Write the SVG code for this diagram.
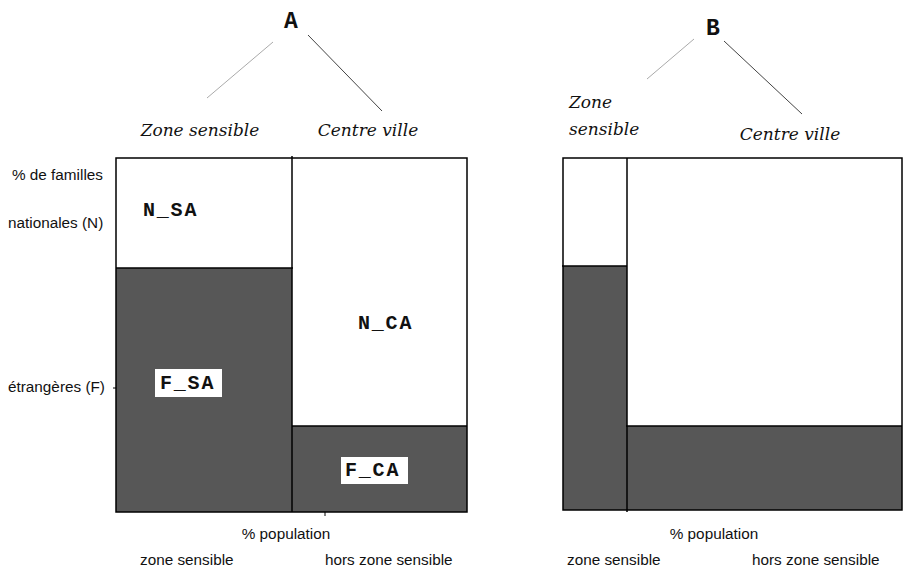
<svg xmlns="http://www.w3.org/2000/svg" width="908" height="569" viewBox="0 0 908 569">
<style>
.ax{font-family:"Liberation Sans",Arial,sans-serif;font-size:15.3px;fill:#111}
.it{font-family:"DejaVu Serif","Liberation Serif",serif;font-style:italic;font-size:17px;fill:#111}
.cd{font-family:"Liberation Mono","Courier New",monospace;font-weight:bold;font-size:20px;letter-spacing:1.8px;fill:#111}
.hd{font-family:"Liberation Mono","Courier New",monospace;font-weight:bold;font-size:23px;fill:#111}
.dk{fill:#575757}
.bx{fill:none;stroke:#000;stroke-width:1.5}
</style>
<rect width="908" height="569" fill="#fff"/>
<g id="chartA">
<rect class="dk" x="116" y="268" width="176" height="244"/>
<rect class="dk" x="292" y="426" width="175" height="86"/>
<rect class="bx" x="116" y="158" width="351" height="354"/>
<line x1="292" y1="156" x2="292" y2="512" stroke="#000" stroke-width="1.5"/>
<line x1="116" y1="268" x2="293" y2="268" stroke="#000" stroke-width="1.5"/>
<line x1="292" y1="426" x2="467" y2="426" stroke="#000" stroke-width="1.5"/>
<line x1="325" y1="512" x2="325" y2="516" stroke="#000" stroke-width="1"/>
<line x1="113" y1="388" x2="116" y2="388" stroke="#000" stroke-width="1"/>
</g>
<g id="labelsA">
<text class="hd" x="291" y="28" text-anchor="middle">A</text>
<text class="it" x="200" y="136" text-anchor="middle">Zone sensible</text>
<text class="it" x="368" y="136" text-anchor="middle">Centre ville</text>
<text class="ax" x="12" y="180">% de familles</text>
<text class="ax" x="8" y="228">nationales (N)</text>
<text class="ax" x="8" y="392">étrangères (F)</text>
<text class="cd" x="143" y="216">N_SA</text>
<text class="cd" x="358" y="329">N_CA</text>
<g id="fsa"><rect x="155" y="369" width="67" height="28" fill="#fff"/><text class="cd" x="160" y="389">F_SA</text></g>
<g id="fca"><rect x="341" y="457" width="67" height="27" fill="#fff"/><text class="cd" x="345" y="476">F_CA</text></g>
<text class="ax" x="286" y="539" text-anchor="middle">% population</text>
<text class="ax" x="140" y="565">zone sensible</text>
<text class="ax" x="325" y="565">hors zone sensible</text>
</g>
<g id="chartB">
<rect class="dk" x="563" y="266" width="64" height="244"/>
<rect class="dk" x="627" y="426" width="275" height="84"/>
<rect class="bx" x="563" y="158" width="339" height="352"/>
<line x1="627" y1="158" x2="627" y2="512" stroke="#000" stroke-width="1.5"/>
<line x1="562" y1="266" x2="627" y2="266" stroke="#000" stroke-width="1.5"/>
<line x1="626" y1="426" x2="902" y2="426" stroke="#000" stroke-width="1.5"/>
</g>
<g id="labelsB">
<text class="hd" x="713" y="35" text-anchor="middle">B</text>
<text class="it" x="569" y="108">Zone</text>
<text class="it" x="569" y="135">sensible</text>
<text class="it" x="790" y="140" text-anchor="middle">Centre ville</text>
<text class="ax" x="714" y="539" text-anchor="middle">% population</text>
<text class="ax" x="567" y="565">zone sensible</text>
<text class="ax" x="752" y="565">hors zone sensible</text>
</g>
<g id="connectors">
<line x1="273" y1="42" x2="207" y2="98" stroke="#aaa" stroke-width="1"/>
<line x1="308" y1="35" x2="382" y2="111" stroke="#444" stroke-width="1"/>
<line x1="694" y1="39" x2="647" y2="79" stroke="#aaa" stroke-width="1"/>
<line x1="724" y1="41" x2="802" y2="114" stroke="#444" stroke-width="1"/>
</g>
</svg>
